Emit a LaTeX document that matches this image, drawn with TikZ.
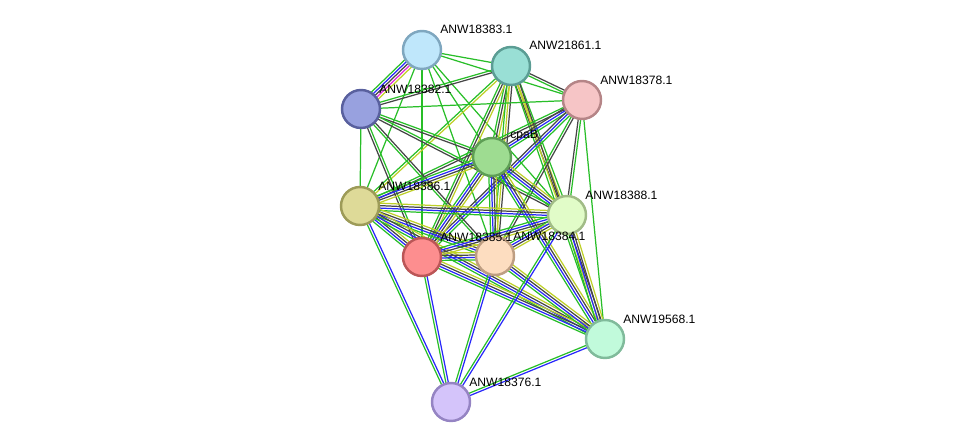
\documentclass[tikz,border=0pt]{standalone}
\usepackage{fontspec}
\setmainfont{Liberation Sans}
\usetikzlibrary{calc,backgrounds}

\definecolor{egreen}{RGB}{40,190,40}
\definecolor{eolive}{RGB}{190,208,40}
\definecolor{eblue}{RGB}{40,40,250}
\definecolor{eblack}{RGB}{70,70,70}
\definecolor{emag}{RGB}{222,40,222}

% an edge made of parallel strands, one per evidence colour
\newcommand\link[3]{%
  \foreach \c [count=\n] in {#3}{\xdef\nlink{\n}}%
  \foreach \c [count=\i] in {#3}{%
    \pgfmathsetmacro\off{(\i-(\nlink+1)/2)*1.4}%
    \draw[\c,line width=0.7pt] ($(#1)!\off pt!90:(#2)$) -- ($(#2)!\off pt!-90:(#1)$);
  }}

\begin{document}
\begin{tikzpicture}[x=0.02cm,y=-0.02cm,
  prot/.style={circle,minimum size=0.76cm,inner sep=0pt,line width=1.4pt},
  lbl/.style={anchor=west,inner sep=0pt,font=\fontsize{6.9}{7}\selectfont}]
\useasboundingbox (0,0) rectangle (975,448);
% ---------- proteins ----------
\node[prot,fill={rgb,255:red,191;green,231;blue,251},draw={rgb,255:red,127;green,167;blue,191}] (n18383) at (422,50) {};
\node[prot,fill={rgb,255:red,153;green,223;blue,213},draw={rgb,255:red,91;green,157;blue,148}] (n21861) at (511,66) {};
\node[prot,fill={rgb,255:red,246;green,197;blue,198},draw={rgb,255:red,181;green,133;blue,135}] (n18378) at (582,100) {};
\node[prot,fill={rgb,255:red,152;green,161;blue,223},draw={rgb,255:red,89;green,96;blue,158}] (n18382) at (361,109) {};
\node[prot,fill={rgb,255:red,158;green,220;blue,145},draw={rgb,255:red,94;green,158;blue,85}] (cpaB) at (492,157) {};
\node[prot,fill={rgb,255:red,222;green,218;blue,152},draw={rgb,255:red,157;green,155;blue,88}] (n18386) at (360,206) {};
\node[prot,fill={rgb,255:red,225;green,252;blue,200},draw={rgb,255:red,161;green,188;blue,135}] (n18388) at (567,215) {};
\node[prot,fill={rgb,255:red,253;green,142;blue,143},draw={rgb,255:red,187;green,86;blue,87}] (n18385) at (422,257) {};
\node[prot,fill={rgb,255:red,253;green,221;blue,192},draw={rgb,255:red,190;green,158;blue,130}] (n18384) at (495,256) {};
\node[prot,fill={rgb,255:red,193;green,250;blue,219},draw={rgb,255:red,128;green,187;blue,155}] (n19568) at (605,339) {};
\node[prot,fill={rgb,255:red,212;green,196;blue,250},draw={rgb,255:red,149;green,132;blue,195}] (n18376) at (451,402) {};
% ---------- labels ----------
\node[lbl] (l18383) at (440,29) {ANW18383.1};
\node[lbl] (l21861) at (529,45) {ANW21861.1};
\node[lbl] (l18378) at (600,80) {ANW18378.1};
\node[lbl] (l18382) at (379,89) {ANW18382.1};
\node[lbl] (lcpaB) at (510,136) {cpaB};
\node[lbl] (l18386) at (378,186) {ANW18386.1};
\node[lbl] (l18388) at (585,195) {ANW18388.1};
\node[lbl] (l18385) at (440,237) {ANW18385.1};
\node[lbl] (l18384) at (513,236) {ANW18384.1};
\node[lbl] (l19568) at (623,319) {ANW19568.1};
\node[lbl] (l18376) at (469,382) {ANW18376.1};
% ---------- edges ----------
\begin{pgfonlayer}{background}
\link{n18383}{n21861}{egreen}
\link{n18383}{n18378}{egreen}
\link{n18383}{n18382}{egreen,eblue,eblack,emag,eolive}
\link{n18383}{cpaB}{egreen}
\link{n18383}{n18386}{egreen}
\link{n18383}{n18385}{egreen}
\link{n18383}{n18384}{egreen}
\link{n18383}{n18388}{egreen}
% ANW21861.1
\link{n21861}{n18378}{egreen,eblack}
\link{n21861}{n18382}{egreen,eblack}
\link{n21861}{cpaB}{egreen,eblack,eolive}
\link{n21861}{n18386}{egreen,eolive}
\link{n21861}{n18385}{egreen,eblack,eolive}
\link{n21861}{n18384}{egreen,eolive,eblack}
\link{n21861}{n18388}{eblack,eolive,egreen}
\link{n21861}{n19568}{egreen,eolive,eblack}
% ANW18378.1
\link{n18378}{n18382}{egreen}
\link{n18378}{cpaB}{eblack,eblue,egreen}
\link{n18378}{n18386}{egreen,eblack}
\link{n18378}{n18385}{eblack,eblue,egreen}
\link{n18378}{n18384}{egreen,eblack}
\link{n18378}{n18388}{eblack,egreen}
\link{n18378}{n19568}{egreen}
% ANW18382.1
\link{n18382}{cpaB}{eblack,egreen}
\link{n18382}{n18386}{egreen}
\link{n18382}{n18388}{eblack,egreen}
\link{n18382}{n18385}{eblack,egreen}
\link{n18382}{n18384}{egreen,eblack}
% cpaB
\foreach \t in {n18386,n18385,n18384,n18388,n19568}
  {\link{cpaB}{\t}{egreen,eblue,eblack,eolive}}
% ANW18386.1
\foreach \t in {n18388,n18385,n18384,n19568}
  {\link{n18386}{\t}{egreen,eblue,eblack,eolive}}
\link{n18386}{n18376}{egreen,eblue}
% ANW18388.1, ANW18385.1, ANW18384.1
\foreach \t in {n18385,n18384,n19568}
  {\link{n18388}{\t}{egreen,eblue,eblack,eolive}}
\link{n18385}{n18384}{egreen,eblue,eblack,eolive}
\link{n18385}{n19568}{egreen,eblue,eblack,eolive}
\link{n18384}{n19568}{egreen,eblue,eblack,eolive}
% to ANW18376.1
\foreach \t in {n18388,n18385,n18384,n19568}
  {\link{\t}{n18376}{egreen,eblue}}
\end{pgfonlayer}
\end{tikzpicture}
\end{document}
